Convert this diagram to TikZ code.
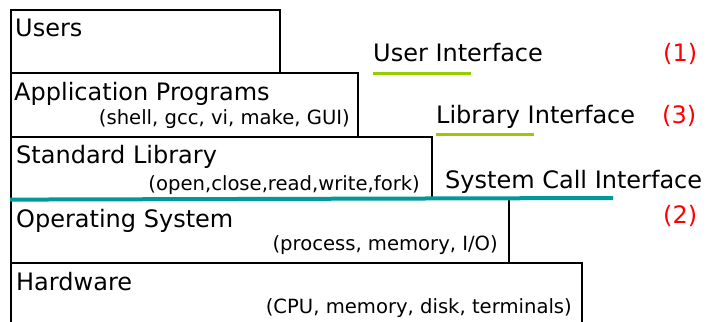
\documentclass[tikz,border=0pt]{standalone}
\usepackage{fontspec}
\setmainfont{DejaVu Sans}
\definecolor{tealline}{RGB}{0,153,153}
\definecolor{greenline}{RGB}{153,204,0}
\definecolor{numred}{RGB}{255,0,0}
\begin{document}
\begin{tikzpicture}[x=1pt,y=-1pt,
  layer/.style={draw=black,line width=1.6pt,anchor=north west,inner sep=0pt},
  big/.style={inner sep=0pt,font=\fontsize{24}{27}\selectfont},
  small/.style={inner sep=0pt,anchor=base east,font=\fontsize{19.6}{22}\selectfont},
  num/.style={inner sep=0pt,anchor=base west,text=numred,font=\fontsize{24}{27}\selectfont},
  uline/.style={draw=greenline,line width=3pt},
  sysline/.style={draw=tealline,line width=4pt}]
\useasboundingbox (0,0) rectangle (706,321);
% layers
\node[layer,minimum width=269pt,minimum height=63pt] (users) at (10,9) {};
\node[layer,minimum width=347pt,minimum height=64pt] (app) at (10,72) {};
\node[layer,minimum width=421pt,minimum height=62pt] (lib) at (10,136) {};
\node[layer,minimum width=498pt,minimum height=64pt] (os) at (10,198) {};
\node[layer,minimum width=571pt,minimum height=72pt] (hw) at (10,262) {};
% layer texts
\node[big,anchor=base west] (tusers) at (15,37) {Users};
\node[big,anchor=base west] (tapp) at (14,100) {Application Programs};
\node[small] (sapp) at (350,124) {(shell, gcc, vi, make, GUI)};
\node[big,anchor=base west] (tlib) at (16,163) {Standard Library};
\node[small] (slib) at (420,190) {(open,close,read,write,fork)};
\node[big,anchor=base west] (tos) at (16,227) {Operating System};
\node[small] (sos) at (498,250) {(process, memory, I/O)};
\node[big,anchor=base west] (thw) at (16,290) {Hardware};
\node[small] (shw) at (572,313) {(CPU, memory, disk, terminals)};
% interfaces
\coordinate (sysend) at (613,198);
\draw[sysline] (lib.south west) -- (sysend);
\node[big,anchor=base west] (ui) at (373,61) {User Interface};
\draw[uline] ([yshift=-12pt]ui.base west) -- ++(98,0);
\node[num] (n1) at (663,61) {(1)};
\node[big,anchor=base west] (li) at (436,123) {Library Interface};
\draw[uline] ([yshift=-11pt]li.base west) -- ++(98,0);
\node[num] (n3) at (662,123) {(3)};
\node[big,anchor=base west] (sci) at (445,188) {System Call Interface};
\node[num] (n2) at (663,223) {(2)};
\end{tikzpicture}
\end{document}
